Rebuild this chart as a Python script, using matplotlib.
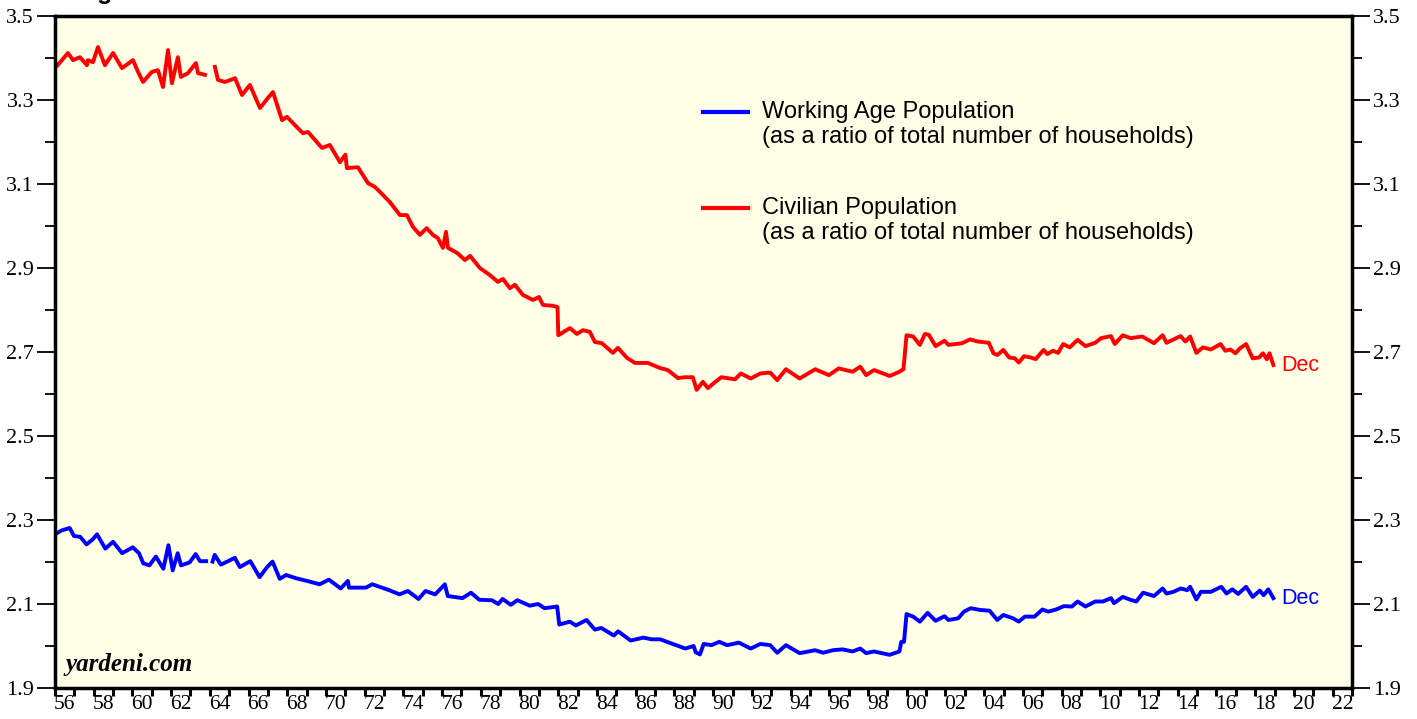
import numpy as np
import matplotlib
matplotlib.use("Agg")
import matplotlib.pyplot as plt
from matplotlib.lines import Line2D

# Civilian population / households (decimal years)
civ_years = [1956.0, 1956.1, 1956.67, 1956.93, 1957.29, 1957.65, 1957.7, 1957.96, 1958.22, 1958.58,
             1959.0, 1959.46, 1960.03, 1960.29, 1960.55, 1961.0, 1961.32, 1961.58, 1961.84, 1962.04,
             1962.35, 1962.5, 1962.87, 1963.28, 1963.39, 1963.75, 1964.0,
             1964.26, 1964.42, 1964.78, 1965.3, 1965.66, 1966.07, 1966.59, 1967.0, 1967.26, 1967.73,
             1967.98, 1968.4, 1968.81, 1969.07, 1969.79, 1970.2, 1970.72, 1971.0, 1971.08, 1971.65,
             1972.17, 1972.53, 1972.79, 1973.3, 1973.82, 1974.18, 1974.49, 1974.85, 1975.2, 1975.52,
             1975.78, 1976.04, 1976.2, 1976.3, 1976.77, 1977.18, 1977.44, 1977.95, 1978.47, 1978.88,
             1979.14, 1979.5, 1979.76, 1980.17, 1980.69, 1981.0, 1981.21, 1981.72, 1981.96, 1982.0,
             1982.6, 1982.96, 1983.27, 1983.63, 1983.89, 1984.25, 1984.82, 1985.08, 1985.55, 1985.96,
             1986.63, 1987.25, 1987.66, 1988.18, 1988.54, 1988.95, 1989.15, 1989.47, 1989.73, 1990.01,
             1990.42, 1991.13, 1991.43, 1991.94, 1992.44, 1992.95, 1993.31, 1993.76, 1994.47, 1995.27,
             1995.98, 1996.49, 1997.2, 1997.6, 1997.9, 1998.31, 1999.12, 1999.62, 1999.83, 1999.99,
             2000.33, 2000.68, 2000.94, 2001.14, 2001.49, 2001.95, 2002.15, 2002.86, 2003.27, 2003.67,
             2004.24, 2004.48, 2004.68, 2004.99, 2005.29, 2005.59, 2005.79, 2006.06, 2006.4, 2006.66,
             2007.07, 2007.27, 2007.55, 2007.82, 2008.08, 2008.42, 2008.83, 2009.23, 2009.74, 2010.04,
             2010.55, 2010.75, 2011.16, 2011.56, 2012.17, 2012.77, 2013.22, 2013.42, 2013.78, 2014.15,
             2014.39, 2014.64, 2014.96, 2015.3, 2015.71, 2016.21, 2016.46, 2016.72, 2016.98, 2017.22,
             2017.53, 2017.87, 2018.2, 2018.4, 2018.6, 2018.74, 2018.94]
civ_vals = [3.379, 3.381, 3.412, 3.395, 3.402, 3.383, 3.395, 3.39, 3.426, 3.383,
            3.412, 3.376, 3.395, 3.367, 3.343, 3.367, 3.371, 3.331, 3.419, 3.34,
            3.402, 3.355, 3.364, 3.388, 3.364, 3.36, np.nan,
            3.379, 3.348, 3.343, 3.352, 3.312, 3.336, 3.281, 3.305, 3.319, 3.252,
            3.26, 3.24, 3.221, 3.224, 3.186, 3.193, 3.152, 3.17, 3.138, 3.14,
            3.102, 3.093, 3.081, 3.057, 3.026, 3.026, 2.998, 2.979, 2.995, 2.979,
            2.971, 2.948, 2.986, 2.948, 2.936, 2.919, 2.929, 2.9, 2.883, 2.867,
            2.874, 2.852, 2.86, 2.836, 2.824, 2.831, 2.812, 2.81, 2.807, 2.74,
            2.757, 2.743, 2.752, 2.748, 2.724, 2.721, 2.698, 2.71, 2.686, 2.674,
            2.674, 2.662, 2.657, 2.638, 2.64, 2.64, 2.61, 2.629, 2.614, 2.625,
            2.64, 2.635, 2.649, 2.637, 2.649, 2.651, 2.633, 2.659, 2.637, 2.659,
            2.645, 2.661, 2.653, 2.665, 2.645, 2.657, 2.643, 2.653, 2.659, 2.74,
            2.737, 2.717, 2.743, 2.741, 2.714, 2.727, 2.717, 2.721, 2.73, 2.725,
            2.722, 2.697, 2.693, 2.705, 2.687, 2.685, 2.675, 2.69, 2.687, 2.683,
            2.705, 2.695, 2.703, 2.698, 2.719, 2.711, 2.729, 2.714, 2.722, 2.733,
            2.738, 2.719, 2.74, 2.733, 2.737, 2.721, 2.74, 2.722, 2.73, 2.738,
            2.725, 2.737, 2.698, 2.711, 2.706, 2.719, 2.703, 2.706, 2.697, 2.709,
            2.719, 2.685, 2.687, 2.697, 2.683, 2.697, 2.669]

# Working age population / households
work_years = [1956.0, 1956.33, 1956.76, 1956.98, 1957.3, 1957.63, 1957.95, 1958.17, 1958.6, 1959.0,
              1959.47, 1960.02, 1960.34, 1960.56, 1960.88, 1961.21, 1961.6, 1961.86, 1962.08, 1962.34,
              1962.51, 1962.95, 1963.27, 1963.49, 1963.81, 1964.0,
              1964.14, 1964.25, 1964.57, 1964.9, 1965.29, 1965.55, 1966.09, 1966.57, 1966.96, 1967.24,
              1967.61, 1967.94, 1968.48, 1969.02, 1969.67, 1970.15, 1970.76, 1971.13, 1971.19, 1972.06,
              1972.39, 1973.26, 1973.8, 1974.23, 1974.78, 1975.14, 1975.64, 1976.14, 1976.29, 1977.05,
              1977.49, 1977.92, 1978.57, 1978.9, 1979.12, 1979.55, 1979.88, 1980.53, 1980.96, 1981.29,
              1981.94, 1982.05, 1982.59, 1982.91, 1983.46, 1983.89, 1984.22, 1984.87, 1985.09, 1985.74,
              1986.39, 1986.82, 1987.26, 1988.02, 1988.56, 1988.99, 1989.1, 1989.32, 1989.51, 1989.91,
              1990.32, 1990.72, 1991.33, 1991.94, 1992.44, 1992.95, 1993.31, 1993.76, 1994.47, 1995.27,
              1995.68, 1996.19, 1996.69, 1997.2, 1997.6, 1997.9, 1998.31, 1999.12, 1999.62, 1999.72,
              1999.86, 1999.99, 2000.33, 2000.68, 2001.08, 2001.49, 2001.95, 2002.15, 2002.66, 2002.96,
              2003.31, 2003.77, 2004.28, 2004.68, 2004.99, 2005.49, 2005.79, 2006.1, 2006.6, 2007.01,
              2007.31, 2007.72, 2008.12, 2008.53, 2008.83, 2009.23, 2009.74, 2010.14, 2010.55, 2010.71,
              2011.16, 2011.56, 2011.86, 2012.21, 2012.77, 2013.22, 2013.42, 2013.78, 2014.15, 2014.49,
              2014.64, 2014.96, 2015.2, 2015.71, 2016.25, 2016.52, 2016.82, 2017.12, 2017.53, 2017.87,
              2018.24, 2018.44, 2018.68, 2018.94]
work_vals = [2.266, 2.275, 2.281, 2.262, 2.26, 2.242, 2.254, 2.266, 2.232, 2.248,
             2.221, 2.235, 2.221, 2.197, 2.192, 2.213, 2.184, 2.24, 2.18, 2.221,
             2.192, 2.199, 2.219, 2.202, 2.202, np.nan,
             2.201, 2.217, 2.194, 2.201, 2.21, 2.188, 2.202, 2.164, 2.188, 2.201,
             2.16, 2.169, 2.161, 2.155, 2.147, 2.158, 2.137, 2.155, 2.139, 2.139,
             2.147, 2.133, 2.123, 2.131, 2.112, 2.131, 2.123, 2.147, 2.119, 2.114,
             2.127, 2.11, 2.109, 2.1, 2.112, 2.098, 2.109, 2.096, 2.1, 2.09,
             2.094, 2.051, 2.058, 2.049, 2.062, 2.039, 2.043, 2.025, 2.035, 2.013,
             2.02, 2.016, 2.016, 2.003, 1.994, 2.0, 1.985, 1.98, 2.005, 2.002,
             2.01, 2.002, 2.008, 1.994, 2.005, 2.002, 1.984, 2.002, 1.983, 1.99,
             1.984, 1.99, 1.992, 1.987, 1.994, 1.983, 1.987, 1.979, 1.987, 2.01,
             2.01, 2.076, 2.07, 2.058, 2.079, 2.06, 2.071, 2.062, 2.066, 2.082,
             2.09, 2.086, 2.084, 2.062, 2.074, 2.066, 2.058, 2.07, 2.07, 2.087,
             2.082, 2.087, 2.095, 2.094, 2.106, 2.094, 2.106, 2.106, 2.114, 2.102,
             2.117, 2.11, 2.106, 2.127, 2.119, 2.137, 2.125, 2.129, 2.137, 2.133,
             2.141, 2.111, 2.129, 2.129, 2.141, 2.125, 2.135, 2.124, 2.141, 2.117,
             2.132, 2.121, 2.135, 2.114]

year_labels = ["%02d" % (y % 100) for y in range(1956, 2023, 2)]

serif = ["Liberation Serif", "DejaVu Serif"]
sans = ["Liberation Sans", "DejaVu Sans"]

fig = plt.figure(figsize=(14.17, 7.19), dpi=100)
ax = fig.add_axes([0.0388, 0.0431, 0.9153, 0.9346])
ax.set_facecolor("#fffee6")

ax.plot(civ_years, civ_vals, color="#ff0000", lw=2.8, solid_joinstyle="round")
ax.plot(work_years, work_vals, color="#0000ff", lw=2.8, solid_joinstyle="round")

ax.set_xlim(1956, 2023)
ax.set_ylim(1.9, 3.5)

# y axis: labels both sides, minor ticks in between
ax.set_yticks(np.arange(1.9, 3.51, 0.2))
ax.set_yticks(np.arange(2.0, 3.5, 0.2), minor=True)
ax.set_yticklabels(["%.1f" % v for v in np.arange(1.9, 3.51, 0.2)], fontfamily=serif, fontsize=16)
ax.tick_params(axis="y", which="major", direction="out", length=13, width=1.3,
               left=True, right=True, labelleft=True, labelright=True, pad=2)
ax.tick_params(axis="y", which="minor", direction="out", length=7, width=1.3,
               left=True, right=True)

# x axis: tick every year, labels centred in even years
ax.set_xticks(np.arange(1956, 2024, 1))
ax.set_xticklabels([])
ax.set_xticks(np.arange(1956.5, 2023, 2), minor=True)
ax.set_xticklabels(year_labels, minor=True, fontfamily=serif, fontsize=15.5)
ax.tick_params(axis="x", which="major", direction="out", length=6, width=2.2)
ax.tick_params(axis="x", which="minor", length=0, pad=5)

for s in ax.spines.values():
    s.set_linewidth(2.5)

# legend drawn by hand so the sample sits on the first line
entries = [("#0000ff", "Working Age Population", 0.857),
           ("#ff0000", "Civilian Population", 0.714)]
for col, name, yy in entries:
    ax.add_line(Line2D([0.4996, 0.5343], [yy, yy], transform=ax.transAxes, color=col, lw=3))
    ax.text(0.545, yy, name, transform=ax.transAxes, va="center", fontsize=17, fontfamily=sans)
    ax.text(0.545, yy - 0.037, "(as a ratio of total number of households)", transform=ax.transAxes,
            va="center", fontsize=17, fontfamily=sans)

ax.annotate("Dec", (civ_years[-1], civ_vals[-1]), xytext=(6, 0), textcoords="offset points",
            color="#ff0000", fontsize=15.5, fontfamily=sans, va="center")
ax.annotate("Dec", (work_years[-1], work_vals[-1]), xytext=(6, 0), textcoords="offset points",
            color="#0000ff", fontsize=15.5, fontfamily=sans, va="center")

ax.text(0.008, 0.018, "yardeni.com", transform=ax.transAxes, fontsize=18, fontfamily=serif,
        fontweight="bold", fontstyle="italic", va="bottom")

# title is cut off at the top of the original image
fig.text(0.053, 1.002, "Figure 3.", fontsize=18, fontweight="bold", fontfamily=sans, va="baseline")

fig.savefig("out.png", dpi=100, facecolor="white")
